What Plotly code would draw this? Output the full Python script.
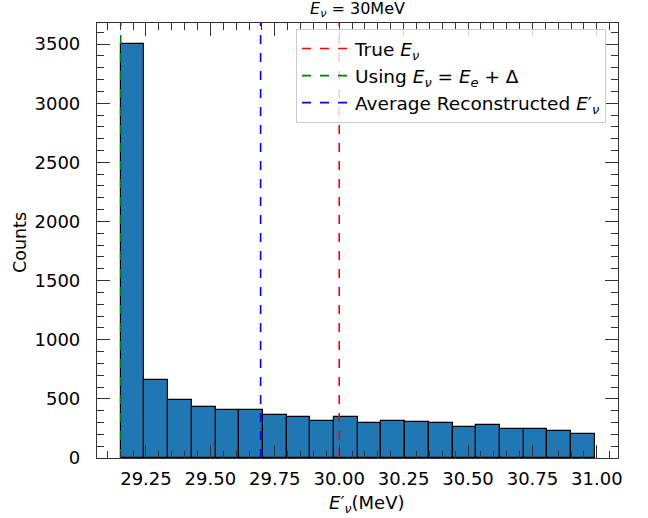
import plotly.graph_objects as go

# ---- data ----
bin_start = 29.152
bin_width = 0.092
counts = [3503, 658, 494, 432, 404, 407, 364, 345, 316, 350,
          299, 311, 305, 297, 260, 277, 243, 249, 229, 203]

line_names = ["True <i>E</i><sub><i>ν</i></sub>",
              "Using <i>E</i><sub><i>ν</i></sub> = <i>E</i><sub><i>e</i></sub> + Δ",
              "Average Reconstructed <i>E</i>′<sub><i>ν</i></sub>"]
line_values = [30.0, 29.152, 29.695]
line_colors = ["red", "green", "blue"]

x_range = [29.060, 31.082]
y_range = [0, 3678]
x_ticks = [29.25, 29.50, 29.75, 30.00, 30.25, 30.50, 30.75, 31.00]
y_ticks = [0, 500, 1000, 1500, 2000, 2500, 3000, 3500]

centers = [bin_start + bin_width * (i + 0.5) for i in range(len(counts))]

W, H = 648, 518
L, R, T, B = 97, 30, 23, 60
PW, PH = W - L - R, H - T - B

fig = go.Figure()
fig.add_trace(go.Bar(
    x=centers, y=counts, width=[bin_width] * len(counts),
    marker=dict(color="#1f77b4", line=dict(color="black", width=1.2)),
    showlegend=False, hoverinfo="x+y",
))
for i, (name, v, c) in enumerate(zip(line_names, line_values, line_colors)):
    fig.add_trace(go.Scatter(
        x=[v, v], y=[0, 1], yaxis="y2", mode="lines", name=name,
        legendgroup=f"g{i}",
        line=dict(color=c, width=1.6, dash="dash"),
    ))

font = "DejaVu Sans"
axcol = "#333333"
common = dict(showline=True, linecolor=axcol, linewidth=1.2, mirror="ticks",
              ticks="inside", ticklen=13, tickwidth=1.2, tickcolor=axcol,
              showgrid=False, zeroline=False, automargin=False,
              tickfont=dict(family=font, size=18, color="black"))

fig.update_layout(
    width=W, height=H,
    margin=dict(l=L, r=R, t=T, b=B),
    paper_bgcolor="white", plot_bgcolor="white",
    bargap=0,
    font=dict(family=font, color="black"),
    title=dict(text="<i>E</i><sub><i>ν</i></sub> = 30MeV", x=(L + PW / 2) / W,
               xanchor="center", y=1 - 8 / H, yanchor="middle", yref="container",
               automargin=False, font=dict(family=font, size=16)),
    xaxis=dict(range=x_range, tickvals=x_ticks, ticktext=[f"{t:.2f}" for t in x_ticks],
               minor=dict(dtick=0.05, tick0=29.0, ticks="inside", ticklen=7, tickwidth=1.2,
                          tickcolor=axcol),
               ticklabelstandoff=4,
               **common),
    yaxis=dict(range=y_range, tickvals=y_ticks,
               minor=dict(dtick=100, tick0=0, ticks="inside", ticklen=7, tickwidth=1.2,
                          tickcolor=axcol),
               ticklabelstandoff=12,
               **common),
    yaxis2=dict(range=[0, 1], overlaying="y", visible=False, fixedrange=True),
    legend=dict(x=(296 - L) / PW, y=1 - (29 - T) / PH,
                xanchor="left", yanchor="top", itemwidth=48,
                bgcolor="rgba(255,255,255,0.8)", bordercolor="#cccccc", borderwidth=1,
                font=dict(family=font, size=18.5), tracegroupgap=0),
    annotations=[
        dict(text="<i>E</i>′<sub><i>ν</i></sub>(MeV)", xref="paper", yref="paper",
             x=(366 - L) / PW, y=-(504 - (H - B)) / PH, xanchor="center", yanchor="middle",
             showarrow=False, font=dict(family=font, size=18)),
        dict(text="Counts", xref="paper", yref="paper", textangle=-90,
             x=-(L - 20) / PW, y=1 - (243 - T) / PH,
             xanchor="center", yanchor="middle",
             showarrow=False, font=dict(family=font, size=17.5)),
    ],
)

fig.write_html("out.html", config={"displayModeBar": False},
               post_script="document.body.style.margin='0';")
